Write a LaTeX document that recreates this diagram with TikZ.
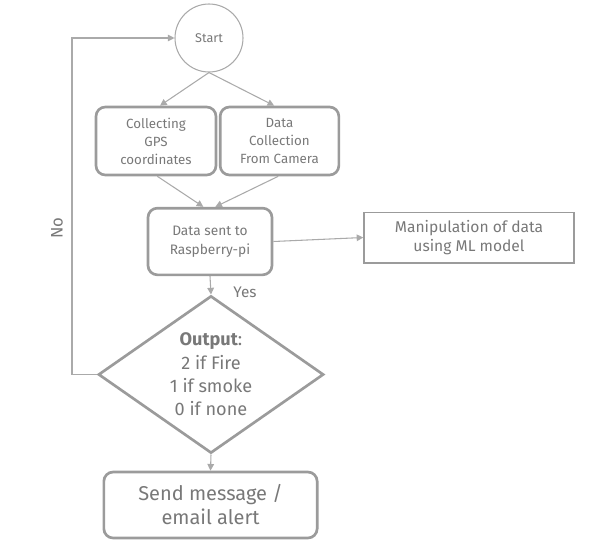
\documentclass[tikz,border=0pt]{standalone}
\usepackage{fontspec}
\setmainfont{Fira Sans}
\usetikzlibrary{shapes.geometric,arrows.meta}
\definecolor{txtgray}{RGB}{120,120,120}
\definecolor{linegray}{RGB}{170,170,170}
\definecolor{boxgray}{RGB}{155,155,155}

\begin{document}
\begin{tikzpicture}[x=0.75pt,y=0.75pt,yscale=-1,xscale=1,
  roundbox/.style={draw=boxgray,line width=2pt,rounded corners=7pt,align=center,text=txtgray,inner sep=0pt},
  flatbox/.style={draw=boxgray,line width=1pt,align=center,text=txtgray,inner sep=0pt},
  flowline/.style={draw=linegray,line width=0.8pt},
  flowarrow/.style={flowline,-{Triangle[length=5pt,width=5pt]}}]
\useasboundingbox (0,0) rectangle (596,546);

%Shape: Circle [start]
\node [circle,draw=linegray,line width=0.8pt,minimum size=51pt,inner sep=0pt,text=txtgray,font=\fontsize{9.5}{11}\selectfont] (start) at (209,38) {Start};
%Shape: Rounded Rectangle [gps]
\node [roundbox,minimum width=90pt,minimum height=51pt,font=\fontsize{10}{13.5}\selectfont] (gps) at (156,141) {Collecting\\GPS\\coordinates};
%Shape: Rounded Rectangle [camera]
\node [roundbox,minimum width=89pt,minimum height=51pt,font=\fontsize{10}{13.5}\selectfont] (camera) at (279.5,141) {Data\\Collection\\From Camera};
%Shape: Rounded Rectangle [rpi]
\node [roundbox,minimum width=93pt,minimum height=50pt,font=\fontsize{10.3}{14}\selectfont] (rpi) at (210,241.5) {Data sent to\\Raspberry-pi};
%Shape: Rectangle [ml]
\node [flatbox,minimum width=157.5pt,minimum height=38pt,font=\fontsize{11.7}{14.5}\selectfont] (ml) at (469,237.5) {Manipulation of data\\using ML model};
%Shape: Diamond [decision]
\node [diamond,draw=boxgray,line width=2pt,aspect=1.43,inner sep=0pt,minimum width=169pt,minimum height=118pt,align=center,text=txtgray,font=\fontsize{13.6}{17.5}\selectfont] (decision) at (211,374.5) {\textbf{Output}:\\2 if Fire\\1 if smoke\\0 if none};
%Shape: Rounded Rectangle [alert]
\node [roundbox,minimum width=160pt,minimum height=49.5pt,font=\fontsize{15}{18}\selectfont] (alert) at (210.5,505) {Send message /\\email alert};

%Straight Lines
\draw [flowarrow] (start.south) -- ([xshift=3pt]gps.north);
\draw [flowarrow] (start.south) -- ([xshift=-4pt]camera.north);
\draw [flowarrow] ([xshift=1pt]gps.south) -- ([xshift=-5pt]rpi.north);
\draw [flowarrow] ([xshift=-1pt]camera.south) -- ([xshift=4pt]rpi.north);
\draw [flowarrow] (rpi.east) -- (ml.west);
\draw [flowarrow] (rpi.south) -- (decision.north);
\draw [flowarrow] (decision.south) -- (alert.north);
\draw [flowarrow] (decision.west) -- ++(-25,0) |- (start.west);

% Text Node
\draw (245,292) node [text=txtgray,font=\fontsize{11.5}{13}\selectfont] {Yes};
% Text Node
\draw (57,228) node [rotate=90,text=txtgray,font=\fontsize{12.5}{14}\selectfont] {No};

\end{tikzpicture}
\end{document}
